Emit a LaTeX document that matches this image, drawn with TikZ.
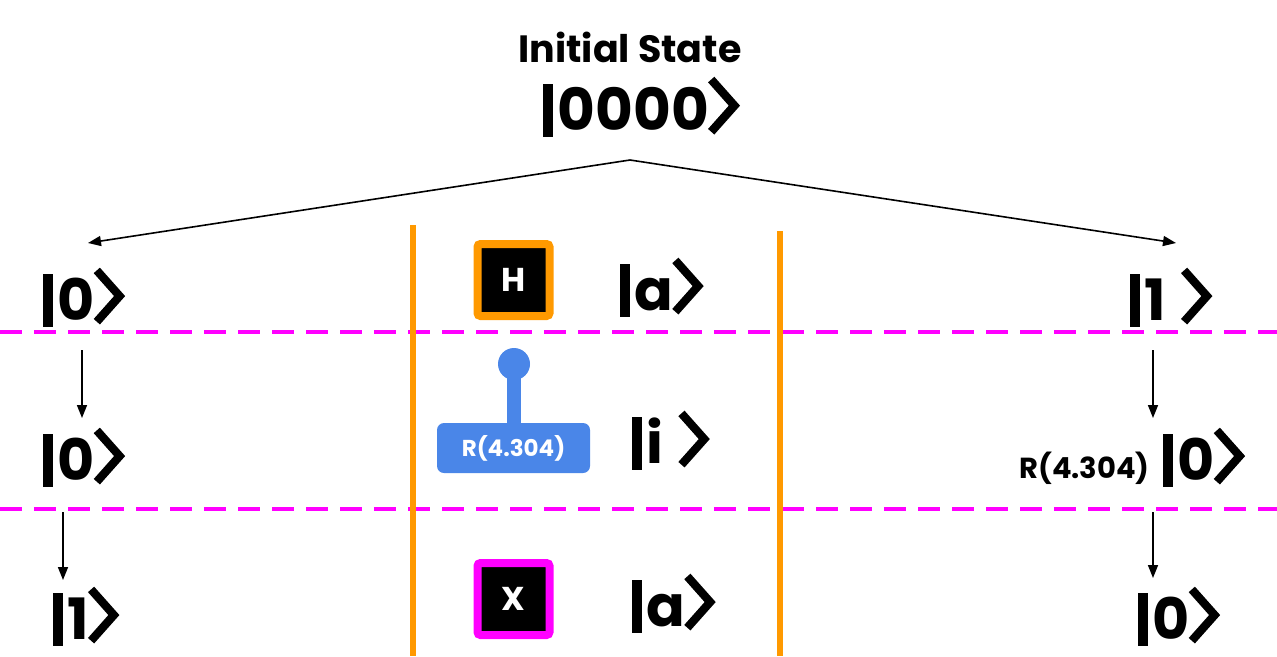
\documentclass[tikz,border=0pt]{standalone}
\usepackage{fontspec}
\setmainfont{Poppins}
\usetikzlibrary{arrows.meta,calc}
\definecolor{gorange}{HTML}{FF9900}
\definecolor{gmag}{HTML}{FF00FF}
\definecolor{gblue}{HTML}{4A86E8}
\newcommand\myket[6][0]{%
  \pgfmathsetmacro\ks{#5}%
  \node[anchor=base west, inner sep=0pt, font=\fontsize{#5}{#5}\selectfont\bfseries] (#2) at (#3,#4) {\rule[-0.12em]{0.175em}{0.92em}\hspace{0.08em}#6};
  \draw[line width=0.145*\ks, line cap=butt, line join=miter] ($(#2.base east)+(0.03*\ks+#1,-0.87*\ks)$) -- ++(0.4*\ks,0.45*\ks) -- ++(-0.4*\ks,0.45*\ks);
}
\tikzset{
  conn/.style={line width=1.6pt, -{Triangle[length=13pt,width=10pt]}},
  sep/.style={gorange, line width=6pt},
  dash line/.style={gmag, line width=3.5pt, dash pattern=on 22pt off 12pt},
  gatebox/.style={draw, line width=8pt, rounded corners=3pt, fill=black, minimum size=72pt, inner sep=0pt, text=white, font=\fontsize{33}{33}\selectfont\bfseries},
}
\begin{document}
\begin{tikzpicture}[x=1pt,y=-1pt]
\useasboundingbox (0,0) rectangle (1277,656);
% dashed separators
\draw[dash line] (0,332) -- (1277,332);
\draw[dash line] (0,509) -- (1277,509);
% orange verticals
\draw[sep] (413,225) -- (413,656);
\draw[sep] (780,231) -- (780,656);
% title
\node[font=\fontsize{38}{38}\selectfont\bfseries, inner sep=0pt] (title) at (630,47) {Initial State};
\myket{init}{543}{130}{58}{0000}
\coordinate (split) at (630,160);
\coordinate (lend) at (88,243);
\coordinate (rend) at (1176,243);
\draw[conn] (split) -- (lend);
\draw[conn] (split) -- (rend);
% row 1
\myket{l1}{43}{320}{57}{0}
\node[gatebox, draw=gorange] (hgate) at (513.5,280) {H};
\myket{a1}{620}{310}{57}{a}
\myket[16]{r1}{1130}{320}{57}{1}
% row 2
\coordinate (l1b) at (82,350);
\coordinate (l2t) at (82,418);
\draw[conn] (l1b) -- (l2t);
\myket{l2}{43}{480}{57}{0}
\fill[gblue] (507,364) rectangle (521,426);
\fill[gblue] (514,364) circle (16);
\node[fill=gblue, rounded corners=7pt, minimum width=153pt, minimum height=50pt, inner sep=0pt, text=white, font=\fontsize{23}{23}\selectfont\bfseries] (rgate) at (513.5,448) {R(4.304)};
\myket[16]{i2}{632}{463}{57}{i}
\coordinate (r1b) at (1153,350);
\coordinate (r2t) at (1153,418);
\draw[conn] (r1b) -- (r2t);
\node[anchor=base east, inner sep=0pt, font=\fontsize{29}{29}\selectfont\bfseries] (rlab) at (1150,478) {R(4.304)};
\myket{r2}{1163}{480}{57}{0}
% row 3
\coordinate (l2b) at (63,512);
\coordinate (l3t) at (63,580);
\draw[conn] (l2b) -- (l3t);
\myket{l3}{53}{639}{57}{1}
\node[gatebox, draw=gmag] (xgate) at (513.5,599) {X};
\myket{a3}{632}{626}{57}{a}
\coordinate (r2b) at (1153,512);
\coordinate (r3t) at (1153,578);
\draw[conn] (r2b) -- (r3t);
\myket{r3}{1138}{639}{57}{0}
\end{tikzpicture}
\end{document}
